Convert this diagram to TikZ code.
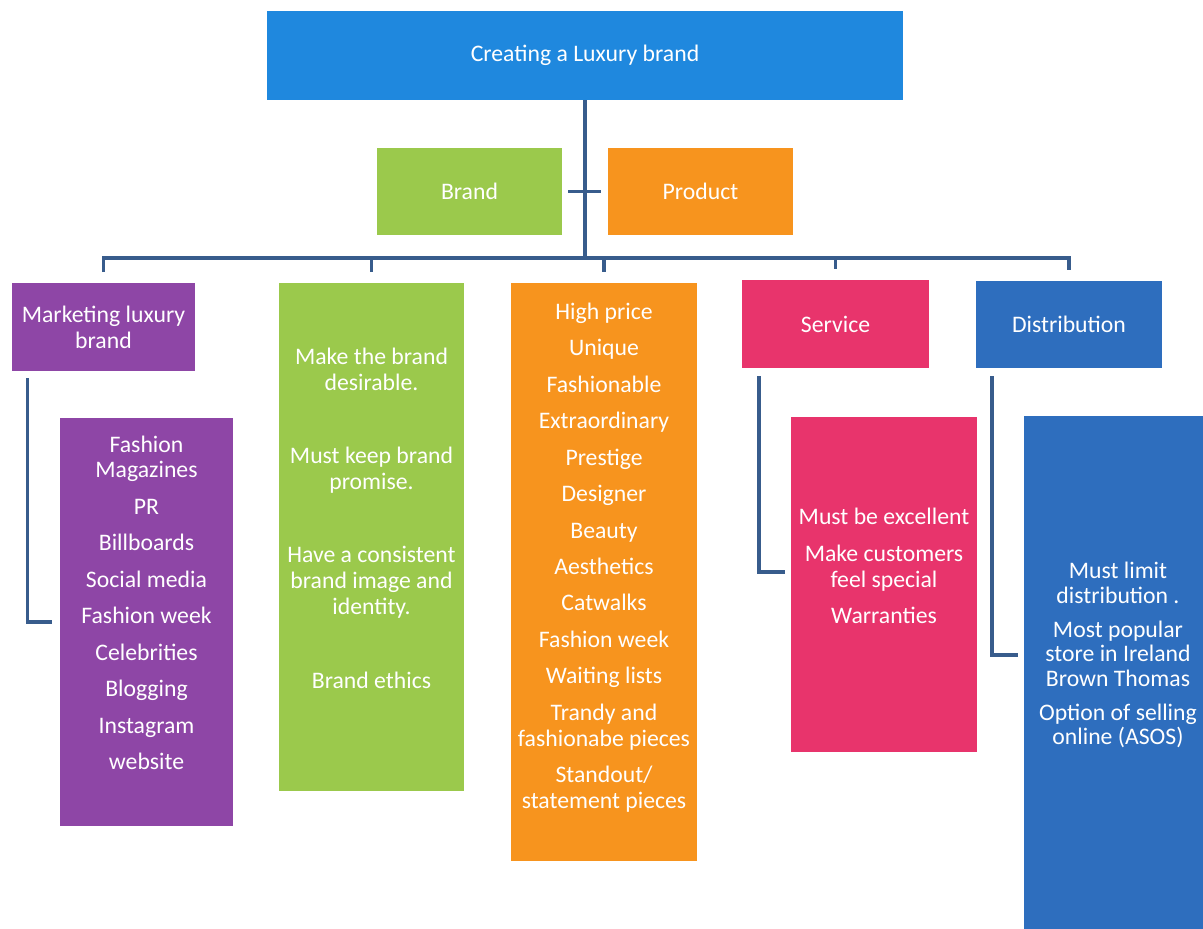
\documentclass[tikz,border=0pt]{standalone}
\usepackage{fontspec}
\setmainfont{Carlito}
\usetikzlibrary{positioning}

\definecolor{topblue}{RGB}{31,136,222}
\definecolor{lgreen}{RGB}{155,201,76}
\definecolor{lorange}{RGB}{247,148,30}
\definecolor{lpurple}{RGB}{142,70,166}
\definecolor{lpink}{RGB}{232,52,108}
\definecolor{dblue}{RGB}{46,110,190}
\definecolor{linkblue}{RGB}{56,92,140}

\tikzset{
    box/.style={inner sep=0pt, text=white, align=center, font=\fontsize{13.5}{14.75}\selectfont},
    txt/.style={inner sep=0pt, text=white, align=center, font=\fontsize{13.5}{14.75}\selectfont},
    link/.style={draw=linkblue, line width=2.2pt},
}

\begin{document}
\begin{tikzpicture}[x=0.02cm, y=-0.02cm]
    \clip (0,0) rectangle (1203,929);
    \fill[white] (0,0) rectangle (1203,929);

    % top level
    \node[box, fill=topblue, minimum width=12.72cm, minimum height=1.78cm] (top) at (585,55.5) {Creating a Luxury brand};
    \node[box, fill=lgreen, minimum width=3.7cm, minimum height=1.74cm] (brand) at (469.5,191.5) {Brand};
    \node[box, fill=lorange, minimum width=3.7cm, minimum height=1.74cm] (prod) at (700.5,191.5) {Product};

    % second level
    \node[box, fill=lpurple, minimum width=3.66cm, minimum height=1.76cm] (mkt) at (103.5,327) {Marketing luxury\\brand};
    \node[box, fill=lgreen, minimum width=3.7cm, minimum height=10.16cm] (bcol) at (371.5,537) {};
    \node[box, fill=lorange, minimum width=3.72cm, minimum height=11.56cm] (pcol) at (604,572) {};
    \node[box, fill=lpink, minimum width=3.74cm, minimum height=1.76cm] (srv) at (835.5,324) {Service};
    \node[box, fill=dblue, minimum width=3.72cm, minimum height=1.74cm] (dst) at (1069,324.5) {Distribution};

    % detail boxes
    \node[box, fill=lpurple, minimum width=3.46cm, minimum height=8.16cm] (mksub) at (146.5,622) {};
    \node[box, fill=lpink, minimum width=3.72cm, minimum height=6.7cm] (srvsub) at (884,584.5) {};
    \node[box, fill=dblue, minimum width=3.76cm, minimum height=10.88cm] (dstsub) at (1118,688) {};

    % texts
    \node[txt] (mktxt) at ([yshift=11pt]mksub.center) {Fashion\\Magazines\\[6pt]PR\\[6pt]Billboards\\[6pt]Social media\\[6pt]Fashion week\\[6pt]Celebrities\\[6pt]Blogging\\[6pt]Instagram\\[6pt]website};
    \node[txt] (btxt) at ([yshift=10.8pt]bcol.center) {Make the brand\\desirable.\\[27pt]Must keep brand\\promise.\\[27pt]Have a consistent\\brand image and\\identity.\\[27pt]Brand ethics};
    \node[txt] (ptxt) at ([yshift=8.2pt]pcol.center) {High price\\[6pt]Unique\\[6pt]Fashionable\\[6pt]Extraordinary\\[6pt]Prestige\\[6pt]Designer\\[6pt]Beauty\\[6pt]Aesthetics\\[6pt]Catwalks\\[6pt]Fashion week\\[6pt]Waiting lists\\[6pt]Trandy and\\fashionabe pieces\\[6pt]Standout/\\statement pieces};
    \node[txt] (stxt) at ([yshift=10.5pt]srvsub.center) {Must be excellent\\[6pt]Make customers\\feel special\\[6pt]Warranties};
    \node[txt, font=\fontsize{13.5}{13.9}\selectfont] (dtxt) at ([yshift=18.7pt]dstsub.center) {Must limit\\distribution .\\[5.4pt]Most popular\\store in Ireland\\Brown Thomas\\[5.4pt]Option of selling\\online (ASOS)};

    % connectors
    \coordinate (bus) at (585,258);
    \draw[link] (top.south) -- (bus);
    \draw[link] ([xshift=3.4pt]brand.east) -- ([xshift=-4pt]prod.west);
    \draw[link] ([yshift=6pt]mkt.north) |- (bus) -| ([yshift=6pt]dst.north);
    \foreach \n in {bcol,pcol,srv}
        \draw[link] (bus -| \n.north) -- ([yshift=6pt]\n.north);

    \draw[link] ([xshift=9pt,yshift=-4pt]mkt.south west) |- ([xshift=-4.5pt]mksub.west);
    \draw[link] ([xshift=10pt,yshift=-4.5pt]srv.south west) |- ([xshift=-3.4pt,yshift=7pt]srvsub.west);
    \draw[link] ([xshift=9.5pt,yshift=-4.5pt]dst.south west) |- ([xshift=-3.4pt,yshift=18.7pt]dstsub.west);
\end{tikzpicture}
\end{document}
